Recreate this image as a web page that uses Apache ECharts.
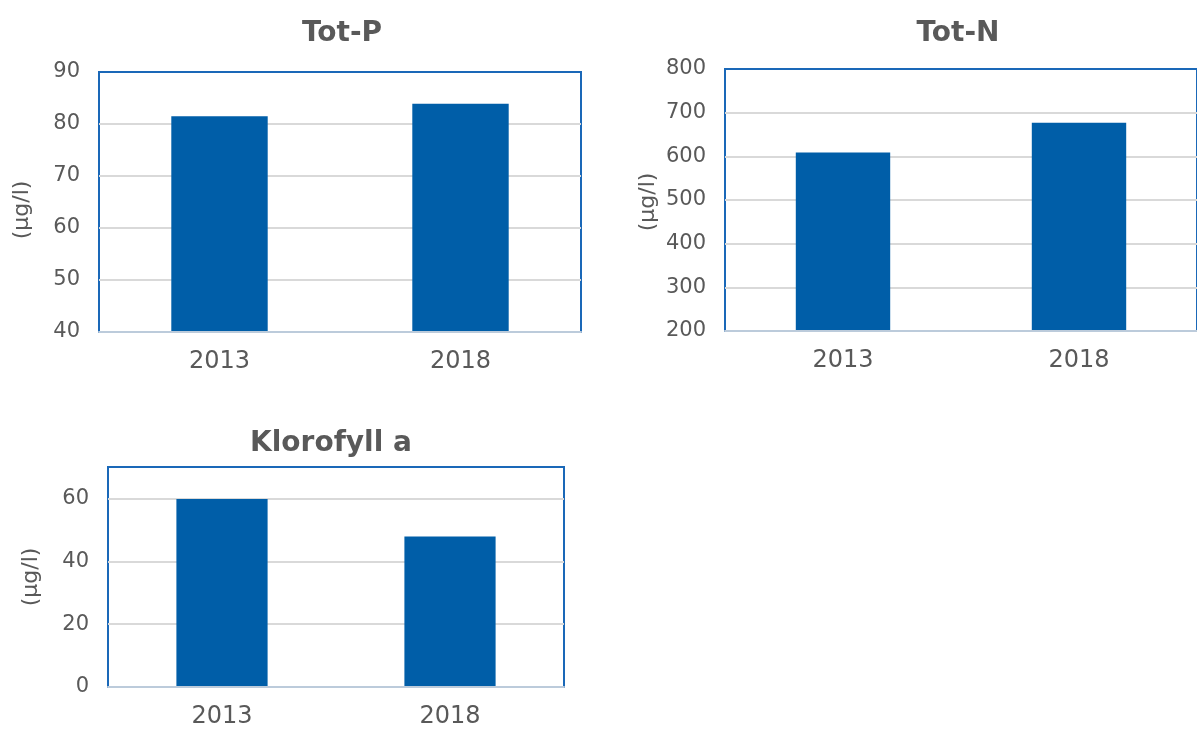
<!DOCTYPE html>
<html>
<head>
<meta charset="utf-8">
<script src="https://cdn.jsdelivr.net/npm/echarts@6/dist/echarts.min.js"></script>
<style>
html,body{margin:0;padding:0;background:#fff;}
#chart{width:1197px;height:729px;}
</style>
</head>
<body>
<div id="chart"></div>
<script>
const categories = ['2013', '2018'];
const totP = [81.5, 83.9];
const totN = [609, 677];
const klorofyll = [59.8, 47.9];
const titles = ['Tot-P', 'Tot-N', 'Klorofyll a'];
const unitName = '(µg/l)';
const yRanges = [
  {min: 40, max: 90, interval: 10},
  {min: 200, max: 800, interval: 100},
  {min: 0, max: 70, interval: 20}
];

const FONT = '"DejaVu Sans", Verdana, sans-serif';
const TEXT = '#595959';
const FRAME = '#1A68B8';
const BAR = '#005EA8';

const grids = [
  {left: 99, top: 72, width: 482, height: 260},
  {left: 725, top: 69, width: 483, height: 262},
  {left: 108, top: 467, width: 456, height: 221}
];
const titlePos = [
  {left: 337, top: 29},
  {left: 953, top: 29},
  {left: 326, top: 439}
];
const namePadding = [[0, 16, 0, 0], [0, 4, 0, 0], [0, 0, 0, 0]];
const seriesData = [totP, totN, klorofyll];

const option = {
  animation: false,
  title: titles.map((t, i) => ({
    text: t,
    left: titlePos[i].left,
    top: titlePos[i].top,
    textAlign: 'center',
    textVerticalAlign: 'middle',
    textStyle: {fontFamily: FONT, fontWeight: 'bold', fontSize: 28, color: TEXT}
  })),
  grid: grids.map(g => Object.assign({
    show: true, borderColor: FRAME, borderWidth: 2, backgroundColor: 'transparent', containLabel: false
  }, g)),
  xAxis: grids.map((g, i) => ({
    type: 'category',
    gridIndex: i,
    data: categories,
    axisTick: {show: false},
    axisLine: {show: true, lineStyle: {color: '#BCCBDB', width: 2}},
    axisLabel: {fontFamily: FONT, fontSize: 24, color: TEXT, margin: 18},
    splitLine: {show: false},
    z: 5
  })),
  yAxis: grids.map((g, i) => ({
    type: 'value',
    gridIndex: i,
    min: yRanges[i].min,
    max: yRanges[i].max,
    interval: yRanges[i].interval,
    name: unitName,
    nameLocation: 'middle',
    nameGap: 66,
    nameRotate: 90,
    nameTextStyle: {fontFamily: FONT, fontSize: 22, color: TEXT, padding: namePadding[i]},
    axisLine: {show: false},
    axisTick: {show: false},
    axisLabel: {fontFamily: FONT, fontSize: 21, color: TEXT, margin: 19, showMaxLabel: i === 2 ? false : true},
    splitLine: {show: true, showMinLine: false, showMaxLine: false, lineStyle: {color: '#D9D9D9', width: 2}}
  })),
  series: seriesData.map((d, i) => ({
    type: 'bar',
    xAxisIndex: i,
    yAxisIndex: i,
    data: d,
    barWidth: '40%',
    itemStyle: {color: BAR}
  }))
};

const chart = echarts.init(document.getElementById('chart'), null, {renderer: 'canvas'});
chart.setOption(option);
</script>
</body>
</html>
